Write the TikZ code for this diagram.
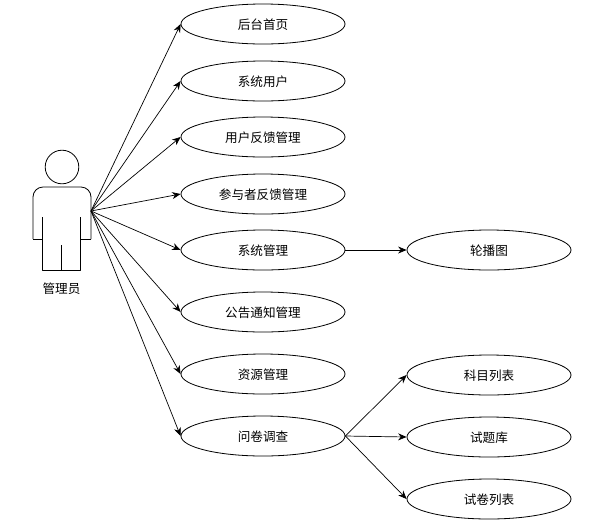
\documentclass[tikz,border=0pt]{standalone}
\usepackage{fontspec}
\usetikzlibrary{shapes.geometric,arrows.meta}
\newfontfamily\cjk{Noto Sans CJK SC}
\tikzset{
  usecase/.style={draw=black,line width=0.8pt,ellipse,minimum width=164pt,minimum height=40pt,inner sep=0pt,text depth=0pt,font=\cjk\fontsize{12.6}{14}\selectfont},
  link/.style={draw=black,line width=0.7pt,-{Stealth[length=8.5pt,width=7pt]}},
  actorline/.style={draw=black,line width=0.8pt,line join=round}
}
\begin{document}
\begin{tikzpicture}[x=1pt,y=-1pt]
\useasboundingbox[fill=white] (0,0) rectangle (610,523);
\node[usecase] (a1) at (263,24) {后台首页};
\node[usecase] (a2) at (263,81) {系统用户};
\node[usecase] (a3) at (263,137) {用户反馈管理};
\node[usecase] (a4) at (263,194) {参与者反馈管理};
\node[usecase] (a5) at (263,250) {系统管理};
\node[usecase] (a6) at (263,312) {公告通知管理};
\node[usecase] (a7) at (263,374) {资源管理};
\node[usecase] (a8) at (263,436) {问卷调查};
\node[usecase] (b1) at (489,250) {轮播图};
\node[usecase] (b2) at (489,375) {科目列表};
\node[usecase] (b3) at (489,437) {试题库};
\node[usecase] (b4) at (489,499) {试卷列表};
% actor
\draw[actorline] (62,167) circle (16.8);
\draw[actorline,rounded corners=10pt] (33,239) -- (33,187) -- (91,187) -- (91,239);
\draw[actorline] (33,239) -- (42.7,239);
\draw[actorline] (91,239) -- (80.7,239);
\draw[actorline] (42.7,217) -- (42.7,270.7) -- (80.7,270.7) -- (80.7,217);
\draw[actorline] (61.7,245) -- (61.7,270.7);
\coordinate (hand) at (91,211);
\node[inner sep=0pt,font=\cjk\fontsize{12.6}{14}\selectfont] (actorlabel) at (61.5,288.5) {管理员};
\foreach \t in {a1,a2,a3,a4,a5,a6,a7,a8} \draw[link] (hand) -- (\t.west);
\draw[link] (a5) -- (b1);
\draw[link] (a8.east) -- (b2.west);
\draw[link] (a8.east) -- (b3.west);
\draw[link] (a8.east) -- (b4.west);
\end{tikzpicture}
\end{document}
